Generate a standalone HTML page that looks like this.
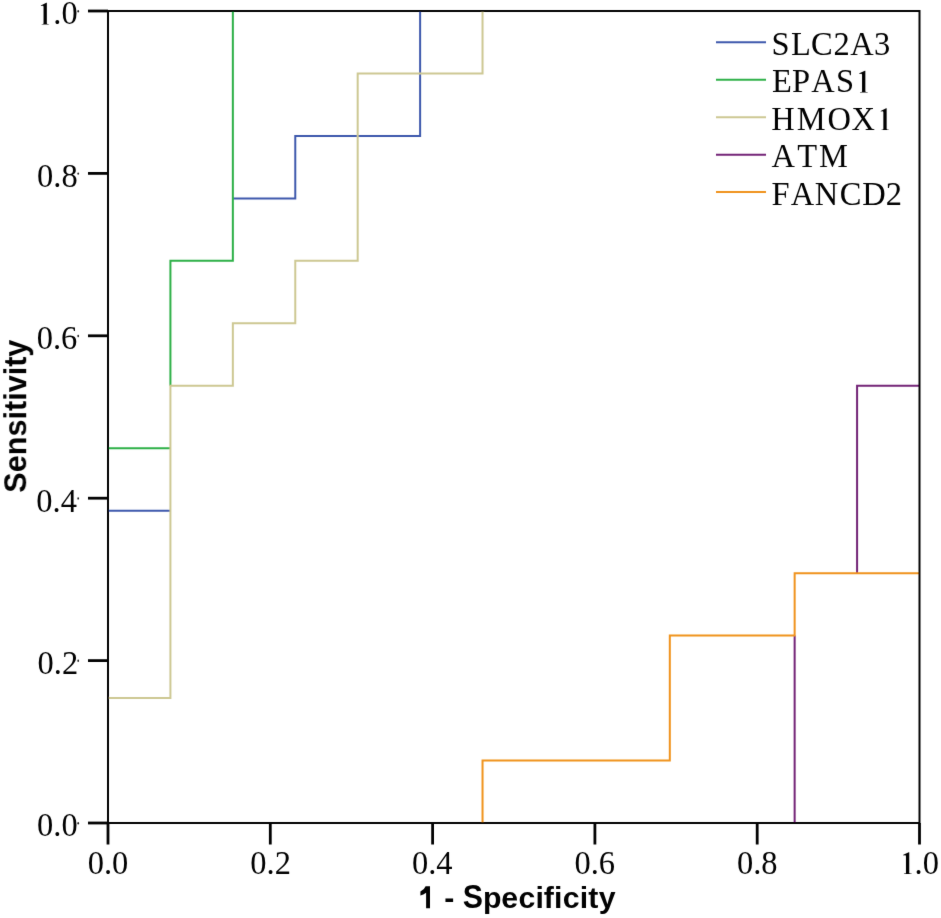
<!DOCTYPE html>
<html><head><meta charset="utf-8"><style>
html,body{margin:0;padding:0;background:#fff;width:941px;height:918px;overflow:hidden}
svg{display:block}
.s{font-family:"Liberation Serif",serif;fill:#000}
.b{font-family:"Liberation Sans",sans-serif;font-weight:bold;fill:#000}
</style></head><body>
<svg width="941" height="918" viewBox="0 0 941 918">
<rect x="0" y="0" width="941" height="918" fill="#fff"/>
<defs><filter id="bl" filterUnits="userSpaceOnUse" x="0" y="0" width="941" height="918"><feConvolveMatrix order="3" kernelMatrix="0.0100 0.0600 0.0100 0.0600 0.7200 0.0600 0.0100 0.0600 0.0100" divisor="1" edgeMode="none"/></filter></defs>
<g style="opacity:0.999" filter="url(#bl)">

<path d="M108.00,510.69 L170.42,510.69 M232.85,198.38 L295.27,198.38 L295.27,135.92 L420.12,135.92 L420.12,11.00" fill="none" stroke="#3e58ac" stroke-width="2"/>
<path d="M108.00,448.23 L170.42,448.23 M170.42,385.77 L170.42,260.85 L232.85,260.85 L232.85,11.00" fill="none" stroke="#2cb046" stroke-width="2"/>
<path d="M108.00,698.08 L170.42,698.08 L170.42,385.77 L232.85,385.77 L232.85,323.31 L295.27,323.31 L295.27,260.85 L357.69,260.85 L357.69,73.46 L482.54,73.46 L482.54,11.00" fill="none" stroke="#cdc893" stroke-width="2"/>
<path d="M108.00,823.00 L794.65,823.00 L794.65,635.62 M857.08,573.15 L857.08,385.77 L919.50,385.77" fill="none" stroke="#732277" stroke-width="2"/>
<path d="M108.00,823.00 L482.54,823.00 L482.54,760.54 L669.81,760.54 L669.81,635.62 L794.65,635.62 L794.65,573.15 L919.50,573.15" fill="none" stroke="#f0931b" stroke-width="2"/>
<rect x="108.0" y="11.0" width="811.5" height="812.0" fill="none" stroke="#000" stroke-width="2"/>
<line x1="88" y1="823.00" x2="108.0" y2="823.00" stroke="#000" stroke-width="2.8"/>
<line x1="108.00" y1="823.0" x2="108.00" y2="844.5" stroke="#000" stroke-width="2.8"/>
<line x1="88" y1="660.60" x2="108.0" y2="660.60" stroke="#000" stroke-width="2.8"/>
<line x1="270.30" y1="823.0" x2="270.30" y2="844.5" stroke="#000" stroke-width="2.8"/>
<line x1="88" y1="498.20" x2="108.0" y2="498.20" stroke="#000" stroke-width="2.8"/>
<line x1="432.60" y1="823.0" x2="432.60" y2="844.5" stroke="#000" stroke-width="2.8"/>
<line x1="88" y1="335.80" x2="108.0" y2="335.80" stroke="#000" stroke-width="2.8"/>
<line x1="594.90" y1="823.0" x2="594.90" y2="844.5" stroke="#000" stroke-width="2.8"/>
<line x1="88" y1="173.40" x2="108.0" y2="173.40" stroke="#000" stroke-width="2.8"/>
<line x1="757.20" y1="823.0" x2="757.20" y2="844.5" stroke="#000" stroke-width="2.8"/>
<line x1="88" y1="11.00" x2="108.0" y2="11.00" stroke="#000" stroke-width="2.8"/>
<line x1="919.50" y1="823.0" x2="919.50" y2="844.5" stroke="#000" stroke-width="2.8"/>
<text class="s" transform="translate(0,836.30) scale(1,1.055)" x="37.01 53.26 61.39" y="0" font-size="32.5">0.0</text>
<ellipse cx="78.2" cy="823.20" rx="0.85" ry="1.2" fill="#222"/>
<text class="s" transform="translate(0,673.90) scale(1,1.055)" x="37.57 53.82 61.94" y="0" font-size="32.5">0.2</text>
<ellipse cx="78.2" cy="660.80" rx="0.85" ry="1.2" fill="#222"/>
<text class="s" transform="translate(0,511.50) scale(1,1.055)" x="36.28 52.53 60.66" y="0" font-size="32.5">0.4</text>
<ellipse cx="78.2" cy="498.40" rx="0.85" ry="1.2" fill="#222"/>
<text class="s" transform="translate(0,349.10) scale(1,1.055)" x="36.74 52.99 61.12" y="0" font-size="32.5">0.6</text>
<ellipse cx="78.2" cy="336.00" rx="0.85" ry="1.2" fill="#222"/>
<text class="s" transform="translate(0,186.70) scale(1,1.055)" x="37.01 53.26 61.39" y="0" font-size="32.5">0.8</text>
<ellipse cx="78.2" cy="173.60" rx="0.85" ry="1.2" fill="#222"/>
<path transform="translate(45.14,24.60) scale(1.0000)" d="M1.7,-21.8 L1.7,-1.0 Q1.8,-0.5 4.0,-0.45 L4.0,0 L-3.6,0 L-3.6,-0.45 Q-1.6,-0.5 -1.6,-1.0 L-1.6,-17.6 Q-1.6,-18.8 -2.4,-18.8 Q-3.2,-18.8 -4.2,-18.6 L-4.3,-19.2 L1.2,-21.8 Z" fill="#000"/>
<text class="s" transform="translate(0,24.30) scale(1,1.055)" x="53.26 61.39" y="0" font-size="32.5">.0</text>
<ellipse cx="78.2" cy="11.20" rx="0.85" ry="1.2" fill="#222"/>
<text class="s" transform="translate(0,873.70) scale(1,1.055)" x="87.69 103.94 112.06" y="0" font-size="32.5">0.0</text>
<text class="s" transform="translate(0,873.70) scale(1,1.055)" x="250.27 266.52 274.64" y="0" font-size="32.5">0.2</text>
<text class="s" transform="translate(0,873.70) scale(1,1.055)" x="411.92 428.17 436.30" y="0" font-size="32.5">0.4</text>
<text class="s" transform="translate(0,873.70) scale(1,1.055)" x="574.45 590.70 598.83" y="0" font-size="32.5">0.6</text>
<text class="s" transform="translate(0,873.70) scale(1,1.055)" x="736.89 753.14 761.26" y="0" font-size="32.5">0.8</text>
<path transform="translate(907.56,874.00) scale(1.0000)" d="M1.7,-21.8 L1.7,-1.0 Q1.8,-0.5 4.0,-0.45 L4.0,0 L-3.6,0 L-3.6,-0.45 Q-1.6,-0.5 -1.6,-1.0 L-1.6,-17.6 Q-1.6,-18.8 -2.4,-18.8 Q-3.2,-18.8 -4.2,-18.6 L-4.3,-19.2 L1.2,-21.8 Z" fill="#000"/>
<text class="s" transform="translate(0,873.70) scale(1,1.055)" x="914.63 922.75" y="0" font-size="32.5">.0</text>
<text class="b" transform="translate(444.32,908.30) scale(1,1.0000)" font-size="30.3">-</text>
<text class="b" transform="translate(462.63,908.30) scale(1,1.0700)" font-size="30.3">S</text>
<text class="b" transform="translate(483.00,908.30) scale(1,0.9550)" font-size="30.3">p</text>
<text class="b" transform="translate(501.22,908.30) scale(1,0.9550)" font-size="30.3">e</text>
<text class="b" transform="translate(518.52,908.30) scale(1,0.9550)" font-size="30.3">c</text>
<text class="b" transform="translate(535.58,908.30) scale(1,0.9550)" font-size="30.3">i</text>
<text class="b" transform="translate(543.78,908.30) scale(1,0.9550)" font-size="30.3">f</text>
<text class="b" transform="translate(554.08,908.30) scale(1,0.9550)" font-size="30.3">i</text>
<text class="b" transform="translate(562.72,908.30) scale(1,0.9550)" font-size="30.3">c</text>
<text class="b" transform="translate(579.68,908.30) scale(1,0.9550)" font-size="30.3">i</text>
<text class="b" transform="translate(588.33,908.30) scale(1,0.9550)" font-size="30.3">t</text>
<text class="b" transform="translate(598.86,908.30) scale(1,0.9550)" font-size="30.3">y</text>
<path d="M425.6,886.2 L430.0,886.2 L430.0,908.2 L426.1,908.2 L426.1,892.8 Q423.4,894.8 420.4,895.6 L420.4,891.6 Q424.2,889.8 425.6,886.2 Z" fill="#000"/>
<g transform="translate(26.2,0) rotate(-90)"><text class="b" transform="translate(-492.69,0.00) scale(1,1.0400)" font-size="30.6">S</text>
<text class="b" transform="translate(-472.28,0.00) scale(1,1.0000)" font-size="30.6">e</text>
<text class="b" transform="translate(-455.26,0.00) scale(1,1.0000)" font-size="30.6">n</text>
<text class="b" transform="translate(-436.57,0.00) scale(1,1.0000)" font-size="30.6">s</text>
<text class="b" transform="translate(-419.55,0.00) scale(1,1.0000)" font-size="30.6">i</text>
<text class="b" transform="translate(-411.05,0.00) scale(1,1.0000)" font-size="30.6">t</text>
<text class="b" transform="translate(-400.86,0.00) scale(1,1.0000)" font-size="30.6">i</text>
<text class="b" transform="translate(-392.36,0.00) scale(1,1.0000)" font-size="30.6">v</text>
<text class="b" transform="translate(-375.34,0.00) scale(1,1.0000)" font-size="30.6">i</text>
<text class="b" transform="translate(-366.84,0.00) scale(1,1.0000)" font-size="30.6">t</text>
<text class="b" transform="translate(-356.65,0.00) scale(1,1.0000)" font-size="30.6">y</text></g>
<line x1="716" y1="42.3" x2="766" y2="42.3" stroke="#3e58ac" stroke-width="2"/>
<text class="s" transform="translate(0,54.80) scale(1,1.045)" x="771.58 791.08 811.09 833.61 850.33 873.93" y="0" font-size="32.5">SLC2A3</text>
<line x1="716" y1="79.7" x2="766" y2="79.7" stroke="#2cb046" stroke-width="2"/>
<path transform="translate(863.65,92.50) scale(1.0000)" d="M1.7,-21.8 L1.7,-1.0 Q1.8,-0.5 4.0,-0.45 L4.0,0 L-3.6,0 L-3.6,-0.45 Q-1.6,-0.5 -1.6,-1.0 L-1.6,-17.6 Q-1.6,-18.8 -2.4,-18.8 Q-3.2,-18.8 -4.2,-18.6 L-4.3,-19.2 L1.2,-21.8 Z" fill="#000"/>
<text class="s" transform="translate(0,92.20) scale(1,1.045)" x="772.02 792.05 811.23 835.88" y="0" font-size="32.5">EPAS</text>
<line x1="716" y1="117.3" x2="766" y2="117.3" stroke="#cdc893" stroke-width="2"/>
<path transform="translate(884.95,130.10) scale(1.0000)" d="M1.7,-21.8 L1.7,-1.0 Q1.8,-0.5 4.0,-0.45 L4.0,0 L-3.6,0 L-3.6,-0.45 Q-1.6,-0.5 -1.6,-1.0 L-1.6,-17.6 Q-1.6,-18.8 -2.4,-18.8 Q-3.2,-18.8 -4.2,-18.6 L-4.3,-19.2 L1.2,-21.8 Z" fill="#000"/>
<text class="s" transform="translate(0,129.80) scale(1,1.045)" x="771.27 796.71 827.41 851.55" y="0" font-size="32.5">HMOX</text>
<line x1="716" y1="154.7" x2="766" y2="154.7" stroke="#732277" stroke-width="2"/>
<text class="s" transform="translate(0,167.20) scale(1,1.045)" x="771.43 797.25 818.91" y="0" font-size="32.5">ATM</text>
<line x1="716" y1="192.1" x2="766" y2="192.1" stroke="#f0931b" stroke-width="2"/>
<text class="s" transform="translate(0,204.60) scale(1,1.045)" x="771.58 790.78 814.67 839.64 862.20 885.86" y="0" font-size="32.5">FANCD2</text>
</g></svg></body></html>
